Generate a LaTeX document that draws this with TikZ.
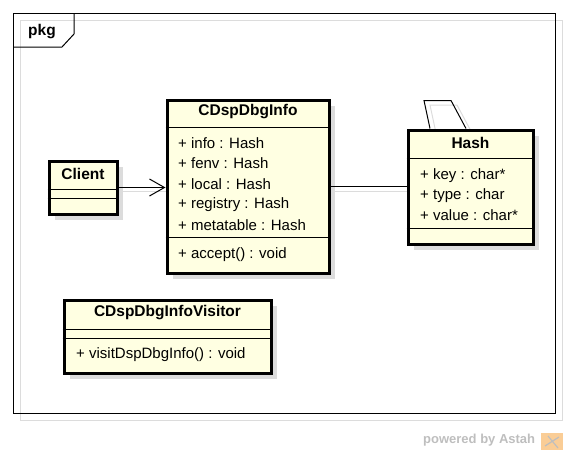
\documentclass[tikz,border=0pt]{standalone}
\usepackage{fontspec}
\setmainfont{Liberation Sans}
\usetikzlibrary{arrows.meta,shadows}
\definecolor{clsfill}{RGB}{255,255,226}
\definecolor{shadowgray}{RGB}{220,220,220}
\definecolor{wmark}{RGB}{190,190,190}
\definecolor{logoc}{RGB}{250,205,150}
\begin{document}
\begin{tikzpicture}[x=1pt,y=-1pt,
  cls/.style={draw=black, line width=3pt, fill=clsfill, anchor=north west, inner sep=0pt,
    drop shadow={shadow xshift=6pt, shadow yshift=-6pt, fill=shadowgray, opacity=1}},
  sep/.style={line width=1pt},
  attr/.style={anchor=west, inner sep=0pt, font=\fontsize{15}{15}\selectfont},
  ctitle/.style={inner sep=0pt, font=\fontsize{15.5}{15.5}\selectfont\bfseries},
  conn/.style={line width=1pt},
  shline/.style={line width=1pt, draw=shadowgray}
]
\useasboundingbox (0,0) rectangle (568,453);
% frame
\draw[shadowgray, line width=1pt] (20,20) rectangle (562,420);
\draw[line width=1pt] (13,13) rectangle (555,413);
\draw[line width=1pt] (13,47) -- (62,47) -- (74,34) -- (74,13);
\node[ctitle, anchor=west] (pkg) at (28,32) {pkg};

% shadows of connectors
\draw[shline] (123,191) -- (170,191);
\draw[shline] (335,191) -- (411,191);
\draw[shline] (436,133) -- (430,105) -- (457,105) -- (472,133);

% classes
\node[cls, minimum width=162pt, minimum height=173pt] (info) at (165.5,98.5) {};
\node[cls, minimum width=68pt, minimum height=53pt] (client) at (47.5,159.5) {};
\node[cls, minimum width=125pt, minimum height=114pt] (hash) at (406.5,128.5) {};
\node[cls, minimum width=207pt, minimum height=73pt] (visitor) at (62.5,298.5) {};

% CDspDbgInfo
\draw[sep] (info.west |- 0,127) -- (info.east |- 0,127);
\draw[sep] (info.west |- 0,237) -- (info.east |- 0,237);
\node[ctitle] (infot) at (info.north |- 0,112) {CDspDbgInfo};
\node[attr] (ia1) at (178,143) {+ info : Hash};
\node[attr] (ia2) at (178,163.5) {+ fenv : Hash};
\node[attr] (ia3) at (178,184) {+ local : Hash};
\node[attr] (ia4) at (178,204.5) {+ registry : Hash};
\node[attr] (ia5) at (178,225) {+ metatable : Hash};
\node[attr] (im1) at (178,255) {+ accept() : void};

% Client
\draw[sep] (client.west |- 0,189) -- (client.east |- 0,189);
\draw[sep] (client.west |- 0,198) -- (client.east |- 0,198);
\node[ctitle] (clientt) at (client.north |- 0,174) {Client};

% Hash
\draw[sep] (hash.west |- 0,158) -- (hash.east |- 0,158);
\draw[sep] (hash.west |- 0,228) -- (hash.east |- 0,228);
\node[ctitle] (hasht) at (hash.north |- 0,143) {Hash};
\node[attr] (ha1) at (420,176) {+ key : char*};
\node[attr] (ha2) at (420,195.5) {+ type : char};
\node[attr] (ha3) at (420,215) {+ value : char*};

% Visitor
\draw[sep] (visitor.west |- 0,329) -- (visitor.east |- 0,329);
\draw[sep] (visitor.west |- 0,338) -- (visitor.east |- 0,338);
\node[ctitle] (visitort) at (visitor.north |- 0,313) {CDspDbgInfoVisitor};
\node[attr] (vm1) at (76,355) {+ visitDspDbgInfo() : void};

% connectors
\draw[conn, -{Straight Barb[length=15pt, width=17pt, line width=1pt]}] (client.east) -- (info.west |- client.east);
\draw[conn] (info.east) -- (hash.west |- info.east);
\coordinate (l1) at ([xshift=23.5pt]hash.north west);
\coordinate (l2) at ([xshift=17.5pt, yshift=28pt]hash.north west);
\coordinate (l3) at ([xshift=44.5pt, yshift=28pt]hash.north west);
\coordinate (l4) at ([xshift=59.5pt]hash.north west);
\draw[conn] (l1) -- (l2) -- (l3) -- (l4);

% watermark
\node[anchor=west, inner sep=0pt, text=wmark, font=\fontsize{13}{13}\selectfont\bfseries] (wm) at (423,440) {powered by Astah};
\fill[logoc] (541,433) rectangle (563,450);
\draw[wmark, line width=1.2pt] (545,446) -- (559,437);
\draw[wmark, line width=1.2pt] (548,436) -- (558,448);
\end{tikzpicture}
\end{document}
